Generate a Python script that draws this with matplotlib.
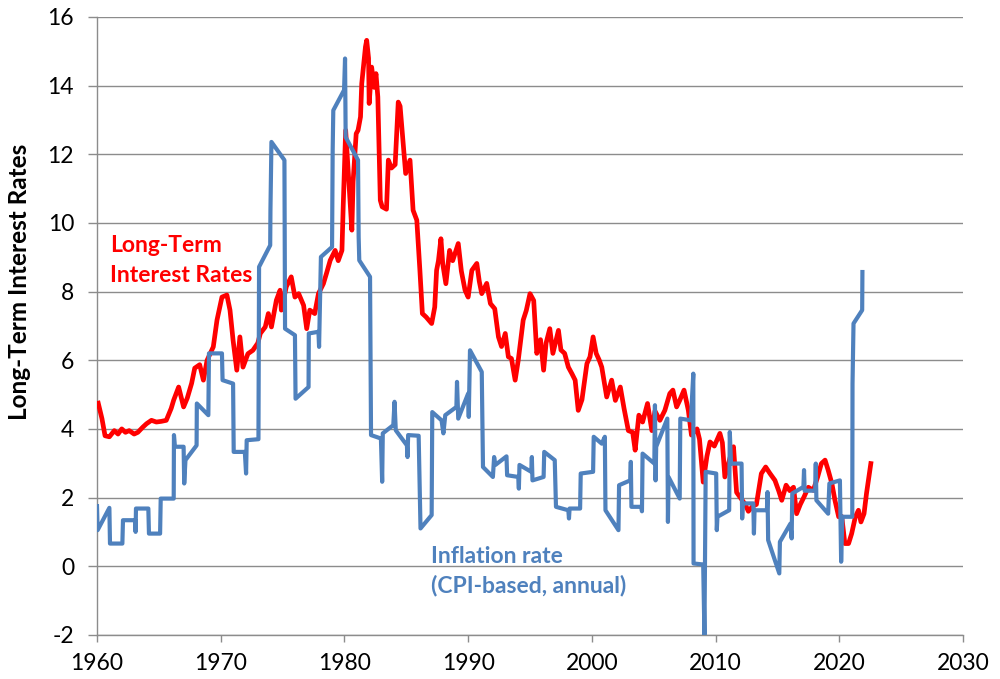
import matplotlib
matplotlib.use("Agg")
import matplotlib.pyplot as plt

# Long-term interest rates (year, percent)
rate_years = [1960.1, 1960.4, 1960.65, 1961.0, 1961.4, 1961.7, 1962.0, 1962.3, 1962.6, 1963.0,
              1963.3, 1963.7, 1964.0, 1964.4, 1964.8, 1965.2, 1965.6, 1966.0, 1966.2, 1966.6,
              1967.0, 1967.3, 1967.65, 1967.9, 1968.3, 1968.6, 1968.9, 1969.4, 1969.7, 1970.1,
              1970.5, 1970.75, 1971.0, 1971.3, 1971.55, 1971.8, 1972.2, 1972.6, 1973.0, 1973.2,
              1973.6, 1973.85, 1974.1, 1974.5, 1974.8, 1974.9, 1975.3, 1975.7, 1976.0, 1976.3,
              1976.7, 1976.95, 1977.2, 1977.6, 1977.9, 1978.3, 1978.55, 1978.85, 1979.25, 1979.5,
              1979.8, 1979.9, 1980.1, 1980.3, 1980.6, 1980.7, 1980.95, 1981.1, 1981.3, 1981.4,
              1981.7, 1981.8, 1981.95, 1982.0, 1982.2, 1982.4, 1982.55, 1982.7, 1982.9, 1983.05,
              1983.4, 1983.55, 1983.8, 1984.1, 1984.35, 1984.5, 1984.95, 1985.3, 1985.55, 1985.85,
              1986.1, 1986.3, 1986.6, 1987.05, 1987.3, 1987.45, 1987.6, 1987.8, 1987.95, 1988.2,
              1988.5, 1988.75, 1989.2, 1989.45, 1989.75, 1990.0, 1990.3, 1990.7, 1990.9, 1991.1,
              1991.5, 1991.8, 1992.15, 1992.45, 1992.7, 1993.0, 1993.25, 1993.5, 1993.8, 1994.05,
              1994.45, 1994.7, 1995.0, 1995.3, 1995.55, 1995.85, 1996.1, 1996.3, 1996.6, 1996.85,
              1997.3, 1997.5, 1997.8, 1998.1, 1998.4, 1998.65, 1998.9, 1999.2, 1999.6, 1999.85,
              2000.1, 2000.35, 2000.6, 2000.8, 2001.2, 2001.6, 2001.9, 2002.3, 2002.6, 2002.95,
              2003.3, 2003.5, 2003.8, 2004.1, 2004.5, 2004.85, 2005.1, 2005.5, 2005.9, 2006.3,
              2006.55, 2006.85, 2007.1, 2007.45, 2007.8, 2008.05, 2008.5, 2008.7, 2009.0, 2009.3,
              2009.55, 2009.9, 2010.35, 2010.55, 2010.75, 2011.2, 2011.45, 2011.7, 2012.1, 2012.4,
              2012.65, 2013.0, 2013.3, 2013.7, 2014.05, 2014.4, 2014.8, 2015.1, 2015.35, 2015.7,
              2016.0, 2016.3, 2016.55, 2016.85, 2017.15, 2017.5, 2017.9, 2018.25, 2018.55, 2018.85,
              2019.1, 2019.4, 2019.65, 2019.95, 2020.2, 2020.45, 2020.75, 2021.0, 2021.3, 2021.55,
              2021.75, 2022.0, 2022.2, 2022.55]
rate_vals = [4.75, 4.3, 3.8, 3.77, 3.95, 3.85, 4.0, 3.9, 3.95, 3.85,
             3.9, 4.05, 4.15, 4.25, 4.2, 4.22, 4.25, 4.6, 4.84, 5.22,
             4.64, 4.9, 5.33, 5.77, 5.87, 5.42, 6.0, 6.39, 7.17, 7.84,
             7.9, 7.46, 6.58, 5.71, 6.68, 5.8, 6.19, 6.29, 6.5, 6.78,
             6.97, 7.36, 6.97, 7.75, 8.04, 7.46, 8.14, 8.43, 7.84, 7.94,
             7.6, 6.92, 7.46, 7.36, 7.94, 8.23, 8.53, 8.91, 9.2, 8.9,
             9.2, 10.47, 12.7, 11.53, 9.79, 11.2, 12.6, 12.7, 13.09, 14.06,
             15.13, 15.32, 14.8, 13.48, 14.54, 13.95, 14.35, 13.67, 10.66, 10.47,
             10.4, 11.83, 11.6, 11.7, 13.52, 13.4, 11.44, 11.83, 10.37, 10.08,
             8.62, 7.36, 7.26, 7.07, 7.55, 8.62, 8.9, 9.54, 8.8, 8.23,
             9.2, 8.9, 9.4, 8.6, 8.04, 7.84, 8.62, 8.82, 8.3, 7.94,
             8.24, 7.65, 7.5, 6.68, 6.4, 6.78, 6.1, 6.05, 5.42, 6.0,
             7.17, 7.45, 7.94, 7.74, 6.2, 6.6, 5.71, 6.5, 6.92, 6.2,
             6.87, 6.3, 6.2, 5.8, 5.6, 5.42, 4.54, 4.85, 5.9, 6.1,
             6.68, 6.2, 6.0, 5.8, 4.93, 5.42, 4.83, 5.22, 4.6, 3.95,
             3.9, 3.38, 4.4, 4.2, 4.74, 3.95, 4.52, 4.25, 4.54, 5.03,
             5.13, 4.64, 4.83, 5.13, 4.54, 3.82, 4.0, 3.7, 2.45, 3.2,
             3.62, 3.5, 3.87, 3.6, 2.6, 3.2, 3.48, 2.15, 1.95, 1.8,
             1.6, 1.75, 1.8, 2.7, 2.89, 2.7, 2.5, 2.2, 1.92, 2.36,
             2.2, 2.3, 1.53, 1.8, 2.02, 2.3, 2.21, 2.6, 2.99, 3.09,
             2.8, 2.41, 1.92, 1.44, 1.45, 0.66, 0.66, 0.95, 1.44, 1.63,
             1.29, 1.53, 2.12, 2.99]

# Inflation rate, CPI-based annual (year, percent)
infl_years = [1960.0, 1960.05, 1961.0, 1961.05, 1962.05, 1962.1, 1963.1, 1963.12, 1963.15, 1964.15,
              1964.2, 1965.1, 1965.15, 1966.2, 1966.22, 1966.3, 1967.0, 1967.05, 1967.15, 1968.05,
              1968.07, 1969.0, 1969.05, 1970.1, 1970.15, 1971.0, 1971.05, 1971.95, 1972.05, 1972.1,
              1973.05, 1973.1, 1974.0, 1974.02, 1974.1, 1975.15, 1975.2, 1976.0, 1976.05, 1977.1,
              1977.12, 1977.9, 1977.95, 1978.1, 1979.0, 1979.05, 1979.1, 1979.97, 1980.05, 1980.1,
              1981.1, 1981.15, 1981.2, 1982.07, 1982.15, 1982.95, 1983.05, 1983.1, 1983.95, 1984.05,
              1984.15, 1985.05, 1985.1, 1985.15, 1986.0, 1986.15, 1987.05, 1987.1, 1987.85, 1988.0,
              1988.15, 1989.05, 1989.1, 1989.2, 1990.0, 1990.05, 1990.15, 1991.1, 1991.2, 1992.0,
              1992.1, 1992.2, 1993.1, 1993.15, 1994.05, 1994.1, 1994.15, 1995.1, 1995.15, 1995.2,
              1996.1, 1996.15, 1997.0, 1997.1, 1998.1, 1998.15, 1998.2, 1999.05, 1999.1, 2000.1,
              2000.15, 2000.8, 2001.05, 2001.1, 2002.15, 2002.2, 2003.1, 2003.15, 2003.2, 2004.0,
              2004.05, 2004.1, 2005.05, 2005.1, 2005.15, 2005.2, 2006.1, 2006.15, 2006.2, 2007.1,
              2007.15, 2008.0, 2008.2, 2008.22, 2009.0, 2009.1, 2009.2, 2010.05, 2010.1, 2010.15,
              2011.1, 2011.15, 2011.25, 2012.1, 2012.15, 2012.2, 2013.05, 2013.1, 2013.15, 2014.15,
              2014.2, 2014.25, 2015.15, 2015.2, 2016.05, 2016.15, 2016.2, 2017.1, 2017.15, 2017.2,
              2018.05, 2018.1, 2018.15, 2019.1, 2019.2, 2020.05, 2020.15, 2020.25, 2021.05, 2021.07,
              2021.15, 2021.85, 2021.87]
infl_vals = [1.75, 1.05, 1.7, 0.66, 0.66, 1.34, 1.34, 1.0, 1.68, 1.68,
             0.95, 0.95, 1.97, 1.97, 3.82, 3.48, 3.48, 2.41, 3.09, 3.52,
             4.74, 4.4, 6.2, 6.2, 5.42, 5.32, 3.33, 3.33, 2.7, 3.67,
             3.7, 8.72, 9.35, 10.37, 12.36, 11.83, 6.92, 6.73, 4.88, 5.22,
             6.78, 6.83, 6.39, 9.01, 9.3, 12.12, 13.28, 13.87, 14.79, 12.5,
             11.83, 9.59, 8.91, 8.43, 3.82, 3.72, 2.46, 3.87, 4.11, 4.79,
             3.96, 3.52, 3.18, 3.82, 3.8, 1.1, 1.49, 4.49, 4.25, 3.87,
             4.4, 4.64, 5.37, 4.3, 5.03, 4.35, 6.29, 5.66, 2.89, 2.6,
             3.18, 2.95, 3.2, 2.65, 2.6, 2.26, 2.95, 2.75, 3.18, 2.5,
             2.6, 3.33, 3.09, 1.73, 1.63, 1.39, 1.68, 1.68, 2.7, 2.75,
             3.77, 3.57, 3.77, 1.63, 1.05, 2.36, 2.5, 3.04, 1.73, 1.73,
             1.6, 3.28, 2.99, 4.69, 2.5, 3.48, 4.3, 1.29, 2.6, 1.97,
             4.3, 4.25, 5.61, 0.08, 0.05, -2.0, 2.75, 2.7, 1.05, 1.44,
             1.63, 3.91, 2.99, 2.99, 1.39, 1.83, 1.83, 0.95, 1.63, 1.63,
             2.16, 0.76, -0.21, 0.71, 1.24, 0.81, 2.12, 2.31, 2.8, 2.2,
             2.2, 2.99, 1.92, 1.53, 2.41, 2.5, 0.13, 1.44, 1.44, 5.32,
             7.07, 7.46, 8.57]

x_ticks = [1960, 1970, 1980, 1990, 2000, 2010, 2020, 2030]
y_ticks = [-2, 0, 2, 4, 6, 8, 10, 12, 14, 16]

plt.rcParams['font.family'] = ['Lato', 'DejaVu Sans']

RED = '#FF0000'
BLUE = '#4F81BD'
GRID = '#8C8C8C'

fig = plt.figure(figsize=(10, 6.79), dpi=100)
ax = fig.add_axes([0.097, 0.065, 0.866, 0.91])

ax.plot(rate_years, rate_vals, color=RED, lw=3.4, solid_joinstyle='round', zorder=3)
ax.plot(infl_years, infl_vals, color=BLUE, lw=3.0, solid_joinstyle='round', zorder=4)

ax.set_xlim(1960, 2030)
ax.set_ylim(-2, 16)
ax.set_xticks(x_ticks)
ax.set_yticks(y_ticks)
ax.set_xticklabels([str(t) for t in x_ticks])
ax.set_yticklabels([str(t) for t in y_ticks])

ax.grid(axis='y', color=GRID, lw=1.0, zorder=0)
ax.set_axisbelow(True)
for s in ['top', 'right']:
    ax.spines[s].set_visible(False)
for s in ['left', 'bottom']:
    ax.spines[s].set_color(GRID)
    ax.spines[s].set_linewidth(1.0)

ax.tick_params(axis='y', length=6.5, width=1.0, color=GRID, pad=10, labelsize=16.5)
ax.tick_params(axis='x', length=5, width=1.0, color=GRID, pad=8, labelsize=16.5)

fig.text(0.02, 0.585, 'Long-Term Interest Rates', rotation=90, fontsize=17.5,
         fontweight='bold', ha='center', va='center', color='black')

ax.text(1961.05, 9.15, 'Long-Term', color=RED, fontsize=16.5, fontweight='bold',
        ha='left', va='baseline', zorder=5)
ax.text(1961.05, 8.28, 'Interest Rates', color=RED, fontsize=16.5, fontweight='bold',
        ha='left', va='baseline', zorder=5)
ax.text(1986.96, 0.1, 'Inflation rate', color=BLUE, fontsize=16.5, fontweight='bold',
        ha='left', va='baseline', zorder=5)
ax.text(1986.96, -0.75, '(CPI-based, annual)', color=BLUE, fontsize=16.5, fontweight='bold',
        ha='left', va='baseline', zorder=5)

fig.savefig('out.png', dpi=100)
